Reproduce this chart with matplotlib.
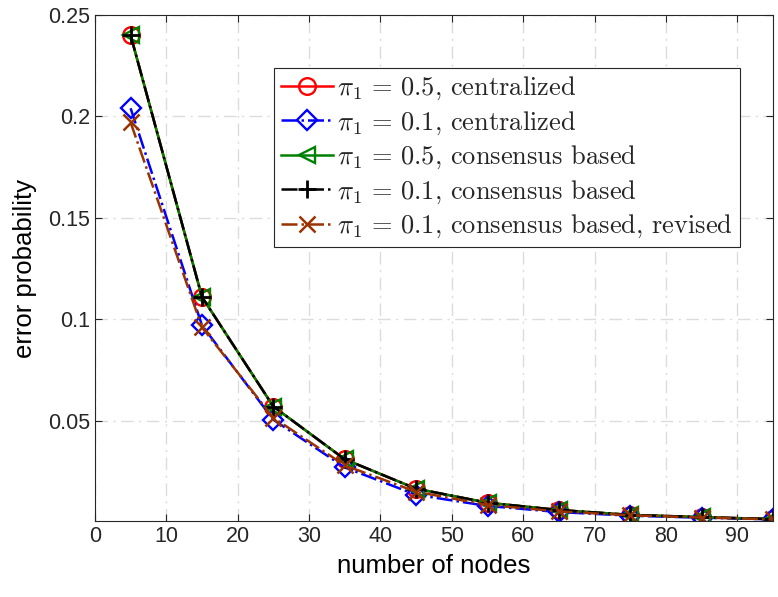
import matplotlib
matplotlib.use("Agg")
import matplotlib.pyplot as plt
import numpy as np

nodes = [5, 15, 25, 35, 45, 55, 65, 75, 85, 95]
cent_05 = [0.240, 0.111, 0.057, 0.031, 0.0165, 0.0096, 0.0060, 0.0036, 0.0025, 0.0015]
cent_01 = [0.204, 0.097, 0.0505, 0.027, 0.0135, 0.0080, 0.0050, 0.0032, 0.0022, 0.0014]
cons_05 = [0.240, 0.111, 0.057, 0.031, 0.0165, 0.0096, 0.0060, 0.0036, 0.0025, 0.0015]
cons_01 = [0.240, 0.111, 0.057, 0.031, 0.0165, 0.0096, 0.0060, 0.0036, 0.0025, 0.0015]
cons_01_rev = [0.197, 0.096, 0.0515, 0.028, 0.015, 0.0085, 0.0053, 0.0034, 0.0023, 0.0014]

labels = [r'$\pi_1\,=\,0.5$, centralized',
          r'$\pi_1\,=\,0.1$, centralized',
          r'$\pi_1\,=\,0.5$, consensus based',
          r'$\pi_1\,=\,0.1$, consensus based',
          r'$\pi_1\,=\,0.1$, consensus based, revised']

plt.rcParams['mathtext.fontset'] = 'cm'
plt.rcParams['font.family'] = ['Liberation Sans', 'DejaVu Sans']
plt.rcParams['text.color'] = '#262626'

fig = plt.figure(figsize=(7.78, 5.97), dpi=100)
ax = fig.add_axes([0.122, 0.127, 0.8716, 0.848])

lw = 1.8
ax.plot(nodes, cent_05, color='red', linestyle='-', marker='o', markersize=12,
        markerfacecolor='none', markeredgewidth=1.7, linewidth=lw, label=labels[0])
ax.plot(nodes, cent_01, color='blue', linestyle='-.', marker='D', markersize=10,
        markerfacecolor='none', markeredgewidth=1.7, linewidth=lw, label=labels[1])
ax.plot(nodes, cons_05, color='green', linestyle='-', marker='<', markersize=12,
        markerfacecolor='none', markeredgewidth=1.7, linewidth=lw, label=labels[2])
ax.plot(nodes, cons_01, color='black', linestyle='-.', marker='+', markersize=13,
        markeredgewidth=2.0, linewidth=lw, label=labels[3])
ax.plot(nodes, cons_01_rev, color='#993300', linestyle='-.', marker='x', markersize=11,
        markeredgewidth=1.8, linewidth=lw, label=labels[4])

ax.set_xlim(0, 95)
ax.set_ylim(0.0005, 0.25)
ax.set_xticks(np.arange(0, 91, 10))
ax.set_yticks([0.05, 0.1, 0.15, 0.2, 0.25])
ax.set_yticklabels(['0.05', '0.1', '0.15', '0.2', '0.25'])
ax.tick_params(direction='in', top=True, right=True, labelsize=15.5, length=5,
               width=0.8, labelcolor='#262626', color='#262626')
ax.grid(True, linestyle=(0, (9, 4, 1.5, 4)), color='#dcdcdc', linewidth=1.0)
for s in ax.spines.values():
    s.set_color('#262626')
    s.set_linewidth(0.8)

ax.set_xlabel('number of nodes', fontsize=18.5, labelpad=5)
ax.set_ylabel('error probability', fontsize=18.5, labelpad=8)

leg = ax.legend(loc='upper right', bbox_to_anchor=(0.951, 0.895),
                prop={'family': 'cmr10', 'size': 19}, fancybox=False,
                edgecolor='#262626', framealpha=1, handlelength=2.0,
                handletextpad=0.15, borderpad=0.25, labelspacing=0.27,
                borderaxespad=0)
leg.get_frame().set_linewidth(0.8)

fig.savefig('out.png', dpi=100)
